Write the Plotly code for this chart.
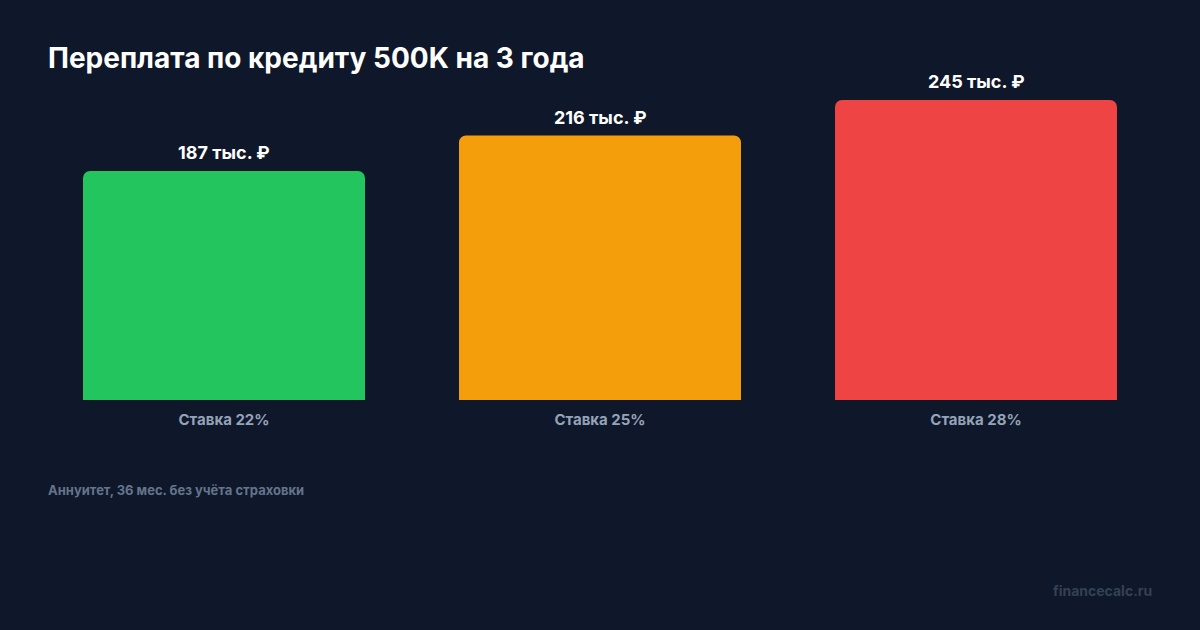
import plotly.graph_objects as go

categories = ["Ставка 22%", "Ставка 25%", "Ставка 28%"]
values = [187, 216, 245]
value_labels = ["187 тыс. ₽", "216 тыс. ₽", "245 тыс. ₽"]
colors = ["#22c55e", "#f59e0b", "#ef4444"]

title_text = "Переплата по кредиту 500K на 3 года"
footnote = "Аннуитет, 36 мес. без учёта страховки"
watermark = "financecalc.ru"

BG = "#0f172a"
FONT = "Inter, Roboto, sans-serif"

fig = go.Figure()
fig.add_trace(go.Bar(
    x=categories, y=values,
    marker=dict(color=colors, cornerradius=7, line=dict(width=0)),
    hoverinfo="skip",
))

annotations = []
for c, v, t in zip(categories, values, value_labels):
    annotations.append(dict(
        x=c, y=v, xref="x", yref="y", text=t, showarrow=False,
        yanchor="bottom", yshift=6,
        font=dict(family=FONT, size=18, color="#ffffff", weight="bold"),
    ))

annotations.append(dict(
    x=(46 - 36) / 1128, y=(400 - 490) / 300, xref="paper", yref="paper",
    xanchor="left", yanchor="middle", text=footnote, showarrow=False,
    font=dict(family=FONT, size=13, color="#64748b", weight="bold"),
))
annotations.append(dict(
    x=(1154 - 36) / 1128, y=(400 - 590) / 300, xref="paper", yref="paper",
    xanchor="right", yanchor="middle", text=watermark, showarrow=False,
    font=dict(family=FONT, size=14, color="#334155", weight="bold"),
))

fig.update_layout(
    width=1200, height=630,
    paper_bgcolor=BG, plot_bgcolor=BG,
    margin=dict(l=36, r=36, t=100, b=230),
    bargap=0.25,
    showlegend=False,
    hovermode=False,
    title=dict(
        text=title_text, xref="container", yref="container",
        x=48 / 1200, y=1 - 58 / 630, xanchor="left", yanchor="middle",
        font=dict(family=FONT, size=28, color="#ffffff", weight="bold"),
    ),
    xaxis=dict(
        showgrid=False, zeroline=False, showline=False, ticks="",
        ticklabelstandoff=9, fixedrange=True,
        tickfont=dict(family=FONT, size=15, color="#94a3b8", weight="bold"),
    ),
    yaxis=dict(
        range=[0, 245], visible=False, showgrid=False, zeroline=False,
        fixedrange=True,
    ),
    annotations=annotations,
)

fig.write_html(
    "out.html",
    config={"displayModeBar": False, "staticPlot": True},
    post_script="document.body.style.margin='0';document.body.style.background='#0f172a';",
)
